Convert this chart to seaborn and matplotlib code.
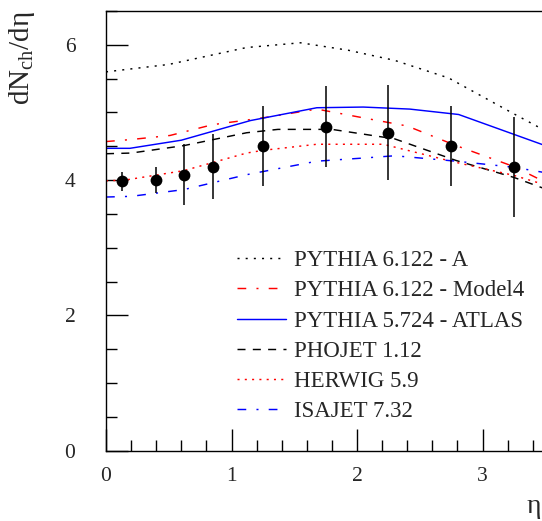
import matplotlib
matplotlib.use("Agg")
import matplotlib.pyplot as plt
from matplotlib.ticker import MultipleLocator
import seaborn as sns
import numpy as np

# Measured charged-particle density
eta_data = [0.13, 0.40, 0.62, 0.85, 1.25, 1.75, 2.25, 2.75, 3.25]
dndeta_data = [3.98, 4.00, 4.08, 4.20, 4.50, 4.79, 4.70, 4.50, 4.20]
dndeta_err = [0.14, 0.19, 0.45, 0.48, 0.59, 0.60, 0.70, 0.59, 0.74]

# Monte Carlo predictions (eta nodes, dN/deta)
pythia_a_eta = [0.0, 0.5, 1.12, 1.55, 1.93, 2.3, 2.73, 3.23, 3.5]
pythia_a_val = [5.60, 5.71, 5.96, 6.03, 5.92, 5.77, 5.51, 5.00, 4.73]

model4_eta = [0.0, 0.2, 0.51, 0.85, 1.25, 1.68, 2.08, 2.40, 2.79, 3.25, 3.5]
model4_val = [4.57, 4.60, 4.66, 4.82, 4.92, 5.05, 4.91, 4.80, 4.51, 4.20, 3.97]

atlas_eta = [0.0, 0.19, 0.60, 1.15, 1.68, 2.05, 2.42, 2.81, 3.5]
atlas_val = [4.47, 4.47, 4.59, 4.88, 5.07, 5.08, 5.05, 4.97, 4.51]

phojet_eta = [0.0, 0.20, 0.62, 1.12, 1.37, 1.80, 2.30, 2.79, 3.25, 3.5]
phojet_val = [4.39, 4.40, 4.51, 4.70, 4.75, 4.75, 4.61, 4.29, 4.04, 3.87]

herwig_eta = [0.0, 0.15, 0.62, 1.12, 1.25, 1.68, 2.21, 2.77, 3.25, 3.5]
herwig_val = [3.99, 4.00, 4.14, 4.40, 4.44, 4.53, 4.53, 4.27, 4.07, 3.93]

isajet_eta = [0.0, 0.20, 0.62, 1.12, 1.68, 2.08, 2.30, 2.79, 3.25, 3.5]
isajet_val = [3.75, 3.76, 3.86, 4.08, 4.28, 4.33, 4.36, 4.28, 4.19, 4.11]

labels = ["PYTHIA 6.122 - A", "PYTHIA 6.122 - Model4", "PYTHIA 5.724 - ATLAS",
          "PHOJET 1.12", "HERWIG 5.9", "ISAJET 7.32"]

sns.set_style("ticks")
plt.rcParams["font.family"] = ["Liberation Serif", "DejaVu Serif"]
plt.rcParams["mathtext.fontset"] = "custom"
plt.rcParams["mathtext.rm"] = "Liberation Serif"
plt.rcParams["mathtext.it"] = "Liberation Serif:italic"

fig = plt.figure(figsize=(5.42, 5.21), dpi=100)
ax = fig.add_axes([0.1956, 0.1349, 0.8104, 0.8440])

curves = [
    (pythia_a_eta, pythia_a_val, "black", (0, (1.4, 4.2))),
    (model4_eta, model4_val, "#ff0000", (0, (6, 7, 1.4, 7))),
    (atlas_eta, atlas_val, "#0000ff", "-"),
    (phojet_eta, phojet_val, "black", (0, (5.5, 5))),
    (herwig_eta, herwig_val, "#ff0000", (0, (1.4, 3.6))),
    (isajet_eta, isajet_val, "#0000ff", (0, (6, 7, 1.4, 7))),
]

handles = []
for (xs, ys, col, ls), lab in zip(curves, labels):
    sns.lineplot(x=xs, y=ys, color=col, linestyle=ls, linewidth=1.05,
                 ax=ax, label=lab, sort=False, estimator=None)
    handles.append(ax.lines[-1])

ax.errorbar(eta_data, dndeta_data, yerr=dndeta_err, fmt="none",
            ecolor="black", elinewidth=1.1, capsize=0, zorder=4)
sns.scatterplot(x=eta_data, y=dndeta_data, color="black", s=72,
                edgecolor="black", linewidth=0, ax=ax, zorder=5)

ax.set_xlim(0, 3.5)
ax.set_ylim(0, 6.5)

ax.xaxis.set_major_locator(MultipleLocator(1))
ax.xaxis.set_minor_locator(MultipleLocator(0.2))
ax.yaxis.set_major_locator(MultipleLocator(2))
ax.yaxis.set_minor_locator(MultipleLocator(0.5))
ax.tick_params(which="both", direction="in", width=1.0, color="black",
               top=False, right=False)
ax.tick_params(which="major", length=16, labelsize=15.5)
ax.tick_params(which="minor", length=8)
ax.tick_params(axis="x", which="major", pad=11.5)
ax.tick_params(axis="y", which="major", pad=22)

for side in ["left", "bottom", "top", "right"]:
    ax.spines[side].set_linewidth(1.0)
    ax.spines[side].set_color("black")

ax.set_xlabel("η", fontsize=20)
ax.xaxis.set_label_coords(0.975, -0.098)
ax.xaxis.label.set_ha("center")
ax.set_ylabel("dN$_{\\mathrm{ch}}$/dη", fontsize=21, loc="top")
ax.yaxis.set_label_coords(-0.157, 1.0)

ax.legend(handles=handles, labels=labels, loc="upper left",
          bbox_to_anchor=(0.437, 0.520), bbox_transform=fig.transFigure,
          frameon=False, fontsize=16.5, handlelength=2.15, handletextpad=0.33,
          labelspacing=0.40, borderpad=0, borderaxespad=0)

fig.savefig("out.png", dpi=100)
